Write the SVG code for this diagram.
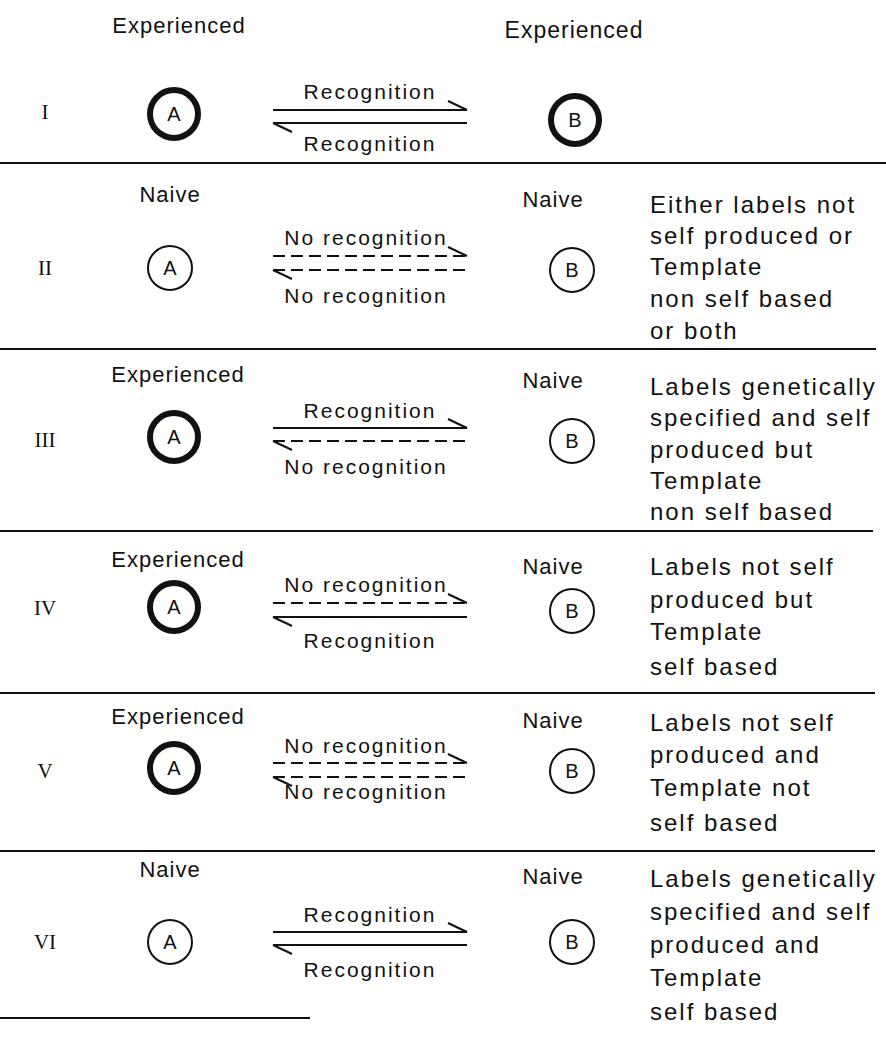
<svg xmlns="http://www.w3.org/2000/svg" width="886" height="1039" viewBox="0 0 886 1039">
<style>
text{font-family:"Liberation Sans",Arial,sans-serif;fill:#111}
.hd{font-size:22px;letter-spacing:1px;text-anchor:middle}
.lb{font-size:21px;letter-spacing:2px;text-anchor:middle}
.rt{font-size:24px;letter-spacing:2px}
.num{font-family:"Liberation Serif",serif;font-size:21px;text-anchor:middle}
.ci{font-size:20px;text-anchor:middle}
.thick{fill:#fff;stroke:#111;stroke-width:6}
.thin{fill:#fff;stroke:#111;stroke-width:2}
.sep{stroke:#111;stroke-width:2}
.sol{stroke:#111;stroke-width:2;fill:none}
.dsh{stroke:#111;stroke-width:2;fill:none;stroke-dasharray:12 6}
</style>
<g id="separators">
<line class="sep" x1="0" y1="163" x2="886" y2="163"/>
<line class="sep" x1="0" y1="349" x2="876" y2="349"/>
<line class="sep" x1="0" y1="531" x2="873" y2="531"/>
<line class="sep" x1="0" y1="693" x2="875" y2="693"/>
<line class="sep" x1="0" y1="851" x2="875" y2="851"/>
<line class="sep" x1="0" y1="1018" x2="310" y2="1018"/>
</g>
<g id="connectors">
<!-- Row I -->
<line class="sol" x1="273" y1="110" x2="467" y2="110"/><line class="sol" x1="448" y1="101" x2="467" y2="110"/>
<line class="sol" x1="273" y1="123" x2="467" y2="123"/><line class="sol" x1="273" y1="123" x2="292" y2="132"/>
<!-- Row II -->
<line class="dsh" x1="273" y1="256" x2="467" y2="256"/><line class="sol" x1="448" y1="247" x2="467" y2="256"/>
<line class="dsh" x1="273" y1="270" x2="467" y2="270"/><line class="sol" x1="273" y1="270" x2="292" y2="279"/>
<!-- Row III -->
<line class="sol" x1="273" y1="428" x2="467" y2="428"/><line class="sol" x1="448" y1="419" x2="467" y2="428"/>
<line class="dsh" x1="273" y1="441" x2="467" y2="441"/><line class="sol" x1="273" y1="441" x2="292" y2="450"/>
<!-- Row IV -->
<line class="dsh" x1="273" y1="603" x2="467" y2="603"/><line class="sol" x1="448" y1="594" x2="467" y2="603"/>
<line class="sol" x1="273" y1="617" x2="467" y2="617"/><line class="sol" x1="273" y1="617" x2="292" y2="626"/>
<!-- Row V -->
<line class="dsh" x1="273" y1="763" x2="467" y2="763"/><line class="sol" x1="448" y1="754" x2="467" y2="763"/>
<line class="dsh" x1="273" y1="777" x2="467" y2="777"/><line class="sol" x1="273" y1="777" x2="292" y2="786"/>
<!-- Row VI -->
<line class="sol" x1="273" y1="932" x2="467" y2="932"/><line class="sol" x1="448" y1="923" x2="467" y2="932"/>
<line class="sol" x1="273" y1="945" x2="467" y2="945"/><line class="sol" x1="273" y1="945" x2="292" y2="954"/>
</g>
<g id="connector-labels">
<text class="lb" x="370" y="99">Recognition</text>
<text class="lb" x="370" y="151">Recognition</text>
<text class="lb" x="366" y="245">No recognition</text>
<text class="lb" x="366" y="303">No recognition</text>
<text class="lb" x="370" y="418">Recognition</text>
<text class="lb" x="366" y="474">No recognition</text>
<text class="lb" x="366" y="592">No recognition</text>
<text class="lb" x="370" y="648">Recognition</text>
<text class="lb" x="366" y="753">No recognition</text>
<text class="lb" x="366" y="799">No recognition</text>
<text class="lb" x="370" y="922">Recognition</text>
<text class="lb" x="370" y="977">Recognition</text>
</g>
<g id="row-I">
<text class="hd" x="179" y="33">Experienced</text>
<text class="hd" x="574" y="38" style="font-size:23px">Experienced</text>
<text class="num" x="45" y="119">I</text>
<g id="I-A"><circle class="thick" cx="174" cy="114" r="24"/><text class="ci" x="174" y="121">A</text></g>
<g id="I-B"><circle class="thick" cx="575" cy="120" r="24"/><text class="ci" x="575" y="127">B</text></g>
</g>
<g id="row-II">
<text class="hd" x="170" y="202">Naive</text>
<text class="hd" x="553" y="207">Naive</text>
<text class="num" x="45" y="275">II</text>
<g id="II-A"><circle class="thin" cx="170" cy="268" r="22"/><text class="ci" x="170" y="275">A</text></g>
<g id="II-B"><circle class="thin" cx="572" cy="270" r="22"/><text class="ci" x="572" y="277">B</text></g>
<text class="rt" x="650" y="213">Either labels not</text>
<text class="rt" x="650" y="244">self produced or</text>
<text class="rt" x="650" y="275">Template</text>
<text class="rt" x="650" y="307">non self based</text>
<text class="rt" x="650" y="339">or both</text>
</g>
<g id="row-III">
<text class="hd" x="178" y="382">Experienced</text>
<text class="hd" x="553" y="388">Naive</text>
<text class="num" x="45" y="447">III</text>
<g id="III-A"><circle class="thick" cx="174" cy="437" r="24"/><text class="ci" x="174" y="444">A</text></g>
<g id="III-B"><circle class="thin" cx="572" cy="441" r="22"/><text class="ci" x="572" y="448">B</text></g>
<text class="rt" x="650" y="395">Labels genetically</text>
<text class="rt" x="650" y="426">specified and self</text>
<text class="rt" x="650" y="458">produced but</text>
<text class="rt" x="650" y="489">Template</text>
<text class="rt" x="650" y="520">non self based</text>
</g>
<g id="row-IV">
<text class="hd" x="178" y="567">Experienced</text>
<text class="hd" x="553" y="574">Naive</text>
<text class="num" x="45" y="615">IV</text>
<g id="IV-A"><circle class="thick" cx="174" cy="607" r="24"/><text class="ci" x="174" y="614">A</text></g>
<g id="IV-B"><circle class="thin" cx="572" cy="611" r="22"/><text class="ci" x="572" y="618">B</text></g>
<text class="rt" x="650" y="575">Labels not self</text>
<text class="rt" x="650" y="608">produced but</text>
<text class="rt" x="650" y="640">Template</text>
<text class="rt" x="650" y="675">self based</text>
</g>
<g id="row-V">
<text class="hd" x="178" y="724">Experienced</text>
<text class="hd" x="553" y="728">Naive</text>
<text class="num" x="45" y="778">V</text>
<g id="V-A"><circle class="thick" cx="174" cy="768" r="24"/><text class="ci" x="174" y="775">A</text></g>
<g id="V-B"><circle class="thin" cx="572" cy="771" r="22"/><text class="ci" x="572" y="778">B</text></g>
<text class="rt" x="650" y="731">Labels not self</text>
<text class="rt" x="650" y="763">produced and</text>
<text class="rt" x="650" y="796">Template not</text>
<text class="rt" x="650" y="831">self based</text>
</g>
<g id="row-VI">
<text class="hd" x="170" y="877">Naive</text>
<text class="hd" x="553" y="884">Naive</text>
<text class="num" x="45" y="949">VI</text>
<g id="VI-A"><circle class="thin" cx="170" cy="942" r="22"/><text class="ci" x="170" y="949">A</text></g>
<g id="VI-B"><circle class="thin" cx="572" cy="942" r="22"/><text class="ci" x="572" y="949">B</text></g>
<text class="rt" x="650" y="887">Labels genetically</text>
<text class="rt" x="650" y="920">specified and self</text>
<text class="rt" x="650" y="953">produced and</text>
<text class="rt" x="650" y="986">Template</text>
<text class="rt" x="650" y="1020">self based</text>
</g>
</svg>
